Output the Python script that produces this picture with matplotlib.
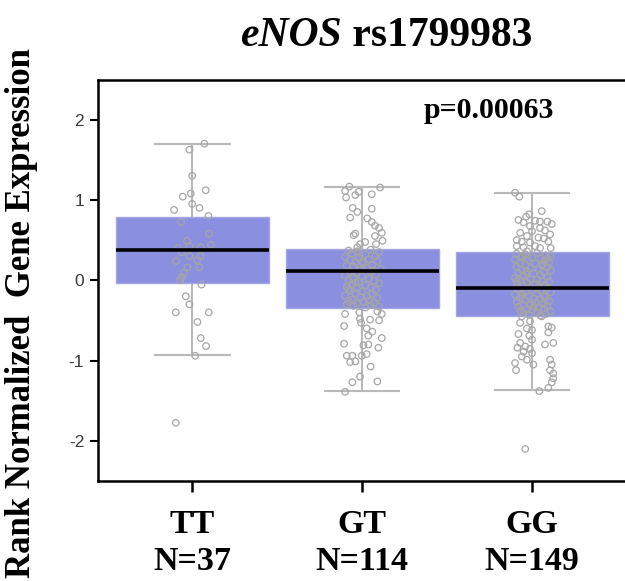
import numpy as np
import matplotlib.pyplot as plt

# genotype groups and box summary
genotypes = ["TT", "GT", "GG"]
counts = [37, 114, 149]
q1 = [-0.03, -0.35, -0.45]
medians = [0.37, 0.12, -0.10]
q3 = [0.79, 0.39, 0.35]
whisker_low = [-0.93, -1.38, -1.37]
whisker_high = [1.70, 1.16, 1.09]
p_value = "p=0.00063"

# individual samples: (horizontal jitter, rank normalized expression)
tt_points = [
    (0.072, 1.70), (-0.016, 1.625), (0.0, 1.30), (0.08, 1.12), (-0.008, 1.08),
    (-0.055, 1.04), (0.0, 0.95), (0.043, 0.90), (-0.106, 0.875), (0.096, 0.80),
    (-0.065, 0.725), (0.1, 0.58), (-0.03, 0.49), (0.11, 0.44), (-0.016, 0.425),
    (-0.084, 0.40), (0.05, 0.41), (-0.016, 0.30), (0.05, 0.30), (-0.094, 0.24),
    (-0.027, 0.16), (0.043, 0.16), (-0.047, 0.09), (-0.06, 0.04), (-0.07, 0.0),
    (0.055, -0.055), (-0.037, -0.20), (-0.016, -0.30), (-0.096, -0.40), (0.098, -0.40),
    (0.031, -0.52), (0.051, -0.72), (0.082, -0.82), (0.018, -0.94), (-0.096, -1.775),
    (-0.06, 0.35), (0.03, 0.25),
]

gt_points = [
    # above the box
    (-0.075, 1.166), (0.106, 1.154), (-0.1, 1.11), (-0.02, 1.10), (-0.04, 1.06),
    (-0.094, 1.03), (0.057, 1.07), (-0.055, 0.90), (-0.028, 0.85), (0.057, 0.89),
    (-0.07, 0.78), (0.03, 0.77), (0.057, 0.725), (0.076, 0.68), (0.1, 0.65),
    (0.116, 0.59), (-0.05, 0.56), (-0.04, 0.58), (0.076, 0.55), (0.12, 0.49),
    (0.018, 0.475), (0.082, 0.45), (-0.012, 0.45), (-0.028, 0.41),
    # inside the box
    (-0.08, 0.37), (-0.03, 0.36), (0.05, 0.38), (0.10, 0.35), (-0.06, 0.33),
    (0.02, 0.32), (0.08, 0.30), (-0.10, 0.29), (-0.02, 0.28), (0.04, 0.26),
    (-0.07, 0.25), (0.09, 0.24), (-0.04, 0.22), (0.01, 0.21), (0.06, 0.19),
    (-0.09, 0.18), (-0.05, 0.17), (0.03, 0.15), (0.11, 0.14), (-0.01, 0.13),
    (-0.07, 0.11), (0.05, 0.10), (-0.03, 0.09), (0.08, 0.07), (-0.10, 0.06),
    (0.00, 0.05), (-0.05, 0.03), (0.04, 0.02), (-0.08, 0.00), (0.07, -0.01),
    (-0.02, -0.02), (0.10, -0.04), (-0.06, -0.05), (0.02, -0.06), (-0.09, -0.08),
    (0.05, -0.09), (-0.03, -0.10), (0.08, -0.12), (-0.07, -0.13), (0.00, -0.14),
    (-0.04, -0.16), (0.06, -0.17), (-0.10, -0.19), (0.03, -0.20), (-0.01, -0.21),
    (0.09, -0.22), (-0.06, -0.24), (0.04, -0.25), (-0.08, -0.26), (0.01, -0.27),
    (0.07, -0.28), (-0.03, -0.29), (-0.09, -0.30), (0.05, -0.31), (-0.05, -0.32),
    (0.10, -0.33), (0.02, -0.34), (-0.02, 0.34), (0.06, 0.12), (-0.08, -0.11),
    (0.00, 0.23), (-0.04, -0.03),
    # below the box
    (-0.1, -0.42), (-0.016, -0.40), (0.09, -0.39), (0.116, -0.42), (-0.012, -0.48),
    (0.047, -0.49), (0.1, -0.50), (-0.006, -0.53), (-0.106, -0.57), (0.027, -0.60),
    (0.037, -0.69), (0.116, -0.72), (-0.106, -0.79), (0.008, -0.81), (0.037, -0.80),
    (0.096, -0.84), (-0.002, -0.94), (0.027, -0.92), (-0.09, -0.94), (-0.057, -0.94),
    (-0.07, -1.02), (-0.04, -1.01), (0.05, -1.075), (-0.012, -1.20), (-0.057, -1.27),
    (0.09, -1.26), (-0.1, -1.39), (0.06, -0.64),
]

gg_points = [
    # above the box
    (-0.1, 1.09), (-0.075, 1.04), (0.057, 0.86), (-0.016, 0.82), (-0.035, 0.79),
    (-0.08, 0.75), (-0.05, 0.72), (0.018, 0.74), (0.047, 0.73), (0.09, 0.73),
    (0.116, 0.70), (-0.012, 0.675), (0.047, 0.65), (0.076, 0.62), (0.0, 0.61),
    (-0.07, 0.59), (0.106, 0.57), (-0.03, 0.55), (0.037, 0.53), (0.07, 0.52),
    (-0.09, 0.50), (-0.06, 0.48), (-0.012, 0.47), (0.096, 0.48), (-0.09, 0.425),
    (-0.05, 0.41), (0.018, 0.425), (0.047, 0.40), (0.11, 0.40), (-0.03, 0.36),
    # inside the box
    (-0.09, 0.33), (-0.04, 0.32), (0.03, 0.34), (0.08, 0.31), (0.11, 0.30),
    (-0.06, 0.29), (0.00, 0.28), (0.05, 0.27), (-0.10, 0.26), (-0.02, 0.25),
    (0.07, 0.24), (0.10, 0.22), (-0.07, 0.21), (0.02, 0.21), (-0.04, 0.19),
    (0.06, 0.18), (-0.09, 0.17), (0.09, 0.16), (-0.01, 0.15), (0.04, 0.14),
    (-0.06, 0.13), (0.11, 0.12), (-0.03, 0.11), (0.07, 0.10), (-0.08, 0.09),
    (0.01, 0.08), (0.05, 0.06), (-0.05, 0.05), (0.09, 0.04), (-0.10, 0.03),
    (-0.01, 0.02), (0.03, 0.01), (-0.07, 0.00), (0.06, -0.01), (0.10, -0.02),
    (-0.03, -0.03), (-0.09, -0.04), (0.02, -0.05), (0.07, -0.06), (-0.05, -0.07),
    (0.04, -0.08), (-0.01, -0.09), (0.09, -0.10), (-0.08, -0.11), (0.00, -0.12),
    (0.05, -0.13), (-0.04, -0.14), (0.11, -0.15), (-0.06, -0.16), (0.03, -0.17),
    (-0.10, -0.18), (0.07, -0.19), (-0.02, -0.20), (0.08, -0.21), (-0.07, -0.22),
    (0.01, -0.23), (0.05, -0.24), (-0.04, -0.25), (0.10, -0.26), (-0.09, -0.27),
    (0.02, -0.28), (0.06, -0.29), (-0.05, -0.30), (-0.01, -0.31), (0.09, -0.32),
    (-0.08, -0.33), (0.04, -0.34), (0.07, -0.35), (-0.03, -0.36), (0.00, -0.37),
    (-0.07, -0.38), (0.11, -0.39), (0.03, -0.40), (-0.05, -0.41), (0.08, -0.42),
    (-0.02, -0.43), (0.05, -0.44), (-0.06, 0.30), (0.06, 0.20), (-0.03, 0.07),
    (0.08, -0.07), (-0.06, -0.19), (0.01, -0.33), (0.09, 0.27), (-0.09, -0.01),
    # below the box
    (-0.06, -0.45), (0.057, -0.45), (-0.07, -0.53), (-0.012, -0.51), (0.096, -0.575),
    (0.116, -0.59), (-0.03, -0.60), (0.0, -0.62), (0.096, -0.65), (-0.08, -0.67),
    (-0.016, -0.69), (0.0, -0.74), (-0.07, -0.78), (0.125, -0.78), (0.076, -0.80),
    (-0.04, -0.825), (-0.086, -0.84), (-0.012, -0.855), (-0.05, -0.89), (0.0, -0.91),
    (-0.06, -0.95), (-0.03, -0.99), (0.106, -0.99), (-0.1, -1.03), (0.008, -1.05),
    (0.116, -1.05), (-0.094, -1.12), (0.106, -1.12), (0.125, -1.16), (0.125, -1.22),
    (0.116, -1.27), (0.096, -1.34), (0.043, -1.38), (-0.04, -2.10),
]

groups = [tt_points, gt_points, gg_points]
for pts, n in zip(groups, counts):
    assert len(pts) == n, (len(pts), n)

serif = "Liberation Serif"
sans = "Liberation Sans"

fig = plt.figure(figsize=(6.25, 5.81), dpi=100)
ax = fig.add_axes([0.157, 0.172, 0.843, 0.690])

stats = []
for i, g in enumerate(genotypes):
    stats.append(dict(label=g, q1=q1[i], med=medians[i], q3=q3[i],
                      whislo=whisker_low[i], whishi=whisker_high[i], fliers=[]))

pos = np.arange(len(genotypes))
ax.bxp(stats, positions=pos, widths=0.9, capwidths=0.44, patch_artist=True,
       showfliers=False,
       boxprops=dict(facecolor="#8b8fdf", edgecolor="#a4a7e6", linewidth=1.0, zorder=2),
       medianprops=dict(color="black", linewidth=2.6, zorder=5),
       whiskerprops=dict(color="#b9b9b9", linewidth=1.5, zorder=1),
       capprops=dict(color="#b9b9b9", linewidth=1.5, zorder=1))

for i, pts in enumerate(groups):
    arr = np.array(pts)
    ax.scatter(pos[i] + arr[:, 0], arr[:, 1], s=22, facecolors="none",
               edgecolors="#a6a6a6", linewidths=0.9, zorder=4)

ax.set_xlim(-0.553, 2.547)
ax.set_ylim(-2.5, 2.49)
ax.set_yticks([-2, -1, 0, 1, 2])
ax.set_yticklabels(["-2", "-1", "0", "1", "2"], fontfamily=sans, fontsize=12.5, color="#3a3a3a")
ax.set_xticks(pos)
ax.set_xticklabels([f"{g}\nN={n}" for g, n in zip(genotypes, counts)],
                   fontfamily=serif, fontweight="bold", fontsize=24.5, linespacing=1.25)
ax.tick_params(axis="y", length=6, width=1.5, pad=4)
ax.tick_params(axis="x", length=8, width=1.8, pad=12)

for side in ["left", "bottom", "top"]:
    ax.spines[side].set_linewidth(1.8)
    ax.spines[side].set_color("black")
ax.spines["right"].set_visible(False)

ax.text(1.747, 2.025, p_value, ha="center", va="baseline",
        fontfamily=serif, fontweight="bold", fontsize=21.5)

fig.text(0.035, 0.462, "Rank Normalized  Gene Expression", rotation=90,
         ha="center", va="center", fontfamily=serif, fontweight="bold", fontsize=25)

# title: italic gene name followed by the SNP id
t1 = fig.text(0.547, 0.921, "eNOS", ha="right", va="baseline",
              fontfamily=serif, fontweight="bold", fontstyle="italic", fontsize=30)
ax.annotate(" rs1799983", xy=(1, 0), xycoords=t1, ha="left", va="bottom",
            fontfamily=serif, fontweight="bold", fontsize=30, annotation_clip=False)

fig.savefig("out.png", dpi=100)
